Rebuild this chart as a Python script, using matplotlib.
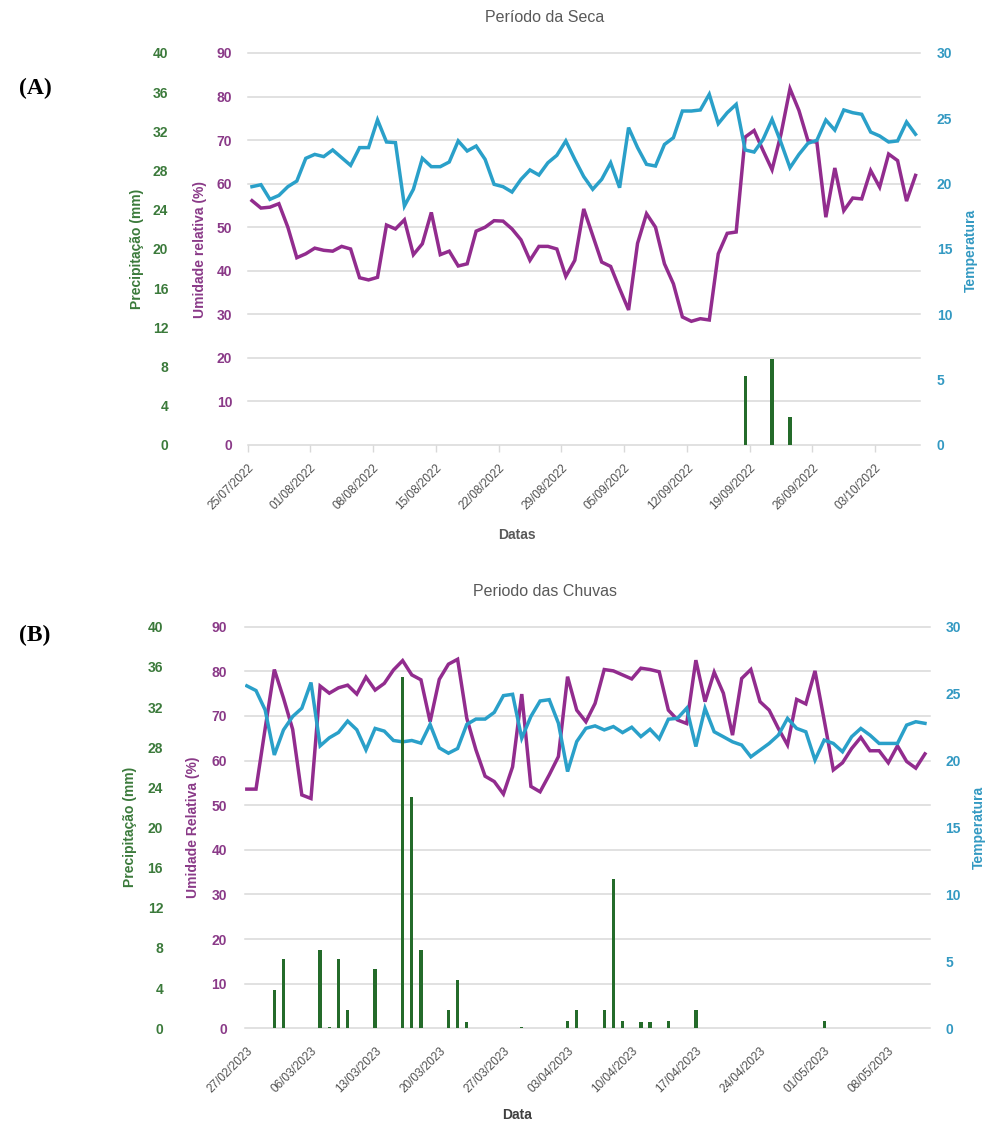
import numpy as np
import pandas as pd
import matplotlib
matplotlib.use('Agg')
import matplotlib.pyplot as plt

plt.rcParams['font.family'] = ['Liberation Sans', 'DejaVu Sans']

# Período da seca: dados diários a partir de 25/07/2022
seca_inicio = '2022-07-25'
seca_umidade = [56.1, 54.4, 54.6, 55.4, 50.0, 43.0, 43.9, 45.2, 44.7, 44.5,
                45.6, 45.0, 38.4, 37.9, 38.5, 50.5, 49.6, 51.7, 43.7, 46.2,
                53.4, 43.7, 44.5, 41.1, 41.6, 49.1, 50.0, 51.5, 51.4, 49.6,
                47.1, 42.4, 45.6, 45.6, 45.0, 38.7, 42.4, 54.2, 48.1, 42.0,
                41.0, 35.9, 31.0, 46.3, 53.1, 50.0, 41.6, 37.0, 29.4, 28.4,
                29.0, 28.7, 43.9, 48.6, 48.9, 70.7, 72.2, 67.6, 63.2, 71.4,
                81.8, 76.8, 69.9, 69.5, 52.3, 63.6, 53.8, 56.7, 56.5, 63.0,
                59.2, 66.8, 65.3, 56.0, 61.9]
seca_temp = [19.77, 19.92, 18.8, 19.1, 19.77, 20.2, 21.94, 22.24, 22.07, 22.58,
             21.99, 21.4, 22.76, 22.76, 24.88, 23.19, 23.14, 18.29, 19.57, 21.94,
             21.3, 21.3, 21.66, 23.27, 22.5, 22.88, 21.86, 19.95, 19.77, 19.36,
             20.33, 21.05, 20.66, 21.6, 22.17, 23.27, 21.86, 20.54, 19.57, 20.33,
             21.6, 19.69, 24.29, 22.76, 21.48, 21.35, 23.0, 23.52, 25.56, 25.56,
             25.64, 26.84, 24.59, 25.43, 26.07, 22.58, 22.42, 23.39, 24.92, 23.14,
             21.22, 22.24, 23.09, 23.32, 24.87, 24.1, 25.64, 25.43, 25.31, 23.95,
             23.65, 23.19, 23.27, 24.72, 23.78]
seca_chuva_dia = [55, 58, 60]
seca_chuva_mm = [7.0, 8.8, 2.9]

# Período das chuvas: dados diários a partir de 27/02/2023
chuva_inicio = '2023-02-27'
chuva_umidade = [53.6, 53.6, 67.2, 80.4, 74.0, 67.0, 52.3, 51.5, 76.7, 75.1,
                 76.3, 76.9, 74.9, 78.7, 75.8, 77.3, 80.3, 82.4, 79.2, 78.1,
                 68.7, 78.2, 81.6, 82.7, 69.5, 62.4, 56.5, 55.3, 52.5, 58.6,
                 74.9, 54.2, 53.0, 56.8, 60.9, 78.8, 71.3, 68.7, 72.8, 80.4,
                 80.1, 79.2, 78.3, 80.7, 80.4, 79.9, 71.3, 69.1, 68.3, 82.5,
                 73.2, 79.8, 75.1, 65.7, 78.4, 80.4, 73.2, 71.3, 67.2, 63.5,
                 73.7, 72.7, 80.1, 69.1, 57.9, 59.5, 62.7, 65.2, 62.2, 62.2,
                 59.5, 63.3, 59.8, 58.3, 61.5]
chuva_temp = [25.58, 25.23, 23.78, 20.42, 22.29, 23.29, 23.91, 25.83, 21.1, 21.7,
              22.1, 22.95, 22.3, 20.8, 22.4, 22.2, 21.5, 21.4, 21.5, 21.3,
              22.7, 20.95, 20.55, 20.9, 22.7, 23.1, 23.1, 23.6, 24.85, 24.95,
              21.67, 23.3, 24.45, 24.55, 22.79, 19.18, 21.42, 22.41, 22.59, 22.29,
              22.54, 22.09, 22.49, 21.79, 22.34, 21.62, 23.09, 23.16, 23.91, 21.05,
              23.9, 22.15, 21.78, 21.4, 21.16, 20.28, 20.78, 21.28, 21.9, 23.15,
              22.4, 22.15, 20.04, 21.53, 21.28, 20.66, 21.78, 22.4, 21.9, 21.28,
              21.28, 21.28, 22.65, 22.9, 22.78]
chuva_chuva_dia = [3, 4, 8, 9, 10, 11, 14, 17, 18, 19, 22, 23, 24, 30,
                   35, 36, 39, 40, 41, 43, 44, 46, 49, 63]
chuva_chuva_mm = [3.8, 6.9, 7.8, 0.1, 6.9, 1.8, 5.9, 35.0, 23.0, 7.8, 1.8, 4.8,
                  0.6, 0.1, 0.76, 1.8, 1.8, 14.85, 0.76, 0.6, 0.6, 0.76, 1.8, 0.76]

ROXO = '#922c8e'
AZUL = '#2aa0c9'
VERDE = '#246b2a'
VERDE_TXT = '#3b7a3b'
ROXO_TXT = '#8a3a88'
AZUL_TXT = '#3399c2'
GRADE = '#d9d9d9'
CINZA = '#595959'

W, H = 987, 1126
fig = plt.figure(figsize=(W / 100, H / 100), dpi=100)


def fx(px):
    return px / W


def fy(py):
    return 1 - py / H


def painel(caixa, inicio, umidade, temp, dias_chuva, mm_chuva, xlim,
           desloc_tick, marcas, pad_ur, pad_t, off_p):
    esq, topo, dir_, base = caixa
    ax = fig.add_axes([fx(esq), fy(base), fx(dir_ - esq), (base - topo) / H])
    ax_t = ax.twinx()
    ax_p = ax.twinx()

    n = len(umidade)
    x = np.arange(n)
    datas = pd.date_range(inicio, periods=n)

    # grade horizontal (eixo da umidade)
    ax.set_ylim(0, 90)
    ax.set_yticks(np.arange(0, 91, 10))
    for v in np.arange(0, 91, 10):
        ax.axhline(v, color=GRADE, lw=1.1, zorder=0, clip_on=False)

    ax.plot(x, umidade, color=ROXO, lw=2.5, solid_joinstyle='miter')
    ax_t.plot(x, temp, color=AZUL, lw=2.5, solid_joinstyle='miter')
    ax_p.bar(dias_chuva, mm_chuva, width=0.36, color=VERDE)

    ax_t.set_ylim(0, 30)
    ax_t.set_yticks(np.arange(0, 31, 5))
    ax_p.set_ylim(0, 40)
    ax_p.set_yticks(np.arange(0, 41, 4))
    ax_p.yaxis.set_ticks_position('left')
    ax_p.spines['left'].set_position(('outward', off_p))

    for a in (ax, ax_t, ax_p):
        a.set_xlim(*xlim)
        for s in a.spines.values():
            s.set_visible(False)

    ax.tick_params(axis='y', length=0, pad=pad_ur, labelcolor=ROXO_TXT,
                   labelsize=10)
    ax_t.tick_params(axis='y', length=0, pad=pad_t, labelcolor=AZUL_TXT,
                     labelsize=10)
    ax_p.tick_params(axis='y', length=0, pad=0, labelcolor=VERDE_TXT,
                     labelsize=10)
    for a in (ax, ax_t, ax_p):
        for t in a.get_yticklabels():
            t.set_fontweight('bold')

    pos = np.arange(0, n, 7)
    ax.set_xticks(pos + desloc_tick)
    ax.set_xticklabels(datas[pos].strftime('%d/%m/%Y'), rotation=45,
                       ha='right', rotation_mode='anchor', fontsize=8.5,
                       color='#505050')
    if marcas:
        ax.tick_params(axis='x', length=5, width=1, color=GRADE, pad=7)
    else:
        ax.tick_params(axis='x', length=0, pad=12)
    return ax


# (A) período da seca
painel((247.5, 53, 920, 445), seca_inicio, seca_umidade, seca_temp,
       seca_chuva_dia, seca_chuva_mm, (-0.5, 74.5), -0.5, True,
       11, 12, 57)
fig.text(fx(545), fy(18), 'Período da Seca', ha='center', va='center',
         fontsize=11.5, color=CINZA)
fig.text(fx(517), fy(535), 'Datas', ha='center', va='center',
         fontsize=10, fontweight='bold', color=CINZA)
fig.text(fx(137), fy(249), 'Precipitação (mm)', rotation=90, ha='center',
         va='center', fontsize=10, fontweight='bold', color=VERDE_TXT)
fig.text(fx(200), fy(250), 'Umidade relativa (%)', rotation=90, ha='center',
         va='center', fontsize=10, fontweight='bold', color=ROXO_TXT)
fig.text(fx(971), fy(250), 'Temperatura', rotation=90, ha='center',
         va='center', fontsize=10, fontweight='bold', color=AZUL_TXT)
fig.text(fx(35), fy(88), '(A)', ha='center', va='center', fontsize=17,
         fontweight='bold', family='Liberation Serif')

# (B) período das chuvas
painel((245, 626.7, 930, 1028.3), chuva_inicio, chuva_umidade, chuva_temp,
       chuva_chuva_dia, chuva_chuva_mm, (-0.2, 74.55), 0, False,
       13, 11, 59)
fig.text(fx(545), fy(592), 'Periodo das Chuvas', ha='center', va='center',
         fontsize=11.5, color=CINZA)
fig.text(fx(517), fy(1115), 'Data', ha='center', va='center',
         fontsize=10, fontweight='bold', color='#404040')
fig.text(fx(130), fy(827), 'Precipitação (mm)', rotation=90, ha='center',
         va='center', fontsize=10, fontweight='bold', color=VERDE_TXT)
fig.text(fx(193), fy(827), 'Umidade Relativa (%)', rotation=90, ha='center',
         va='center', fontsize=10, fontweight='bold', color=ROXO_TXT)
fig.text(fx(979), fy(827), 'Temperatura', rotation=90, ha='center',
         va='center', fontsize=10, fontweight='bold', color=AZUL_TXT)
fig.text(fx(35), fy(635), '(B)', ha='center', va='center', fontsize=17,
         fontweight='bold', family='Liberation Serif')

fig.savefig('out.png', dpi=100)
